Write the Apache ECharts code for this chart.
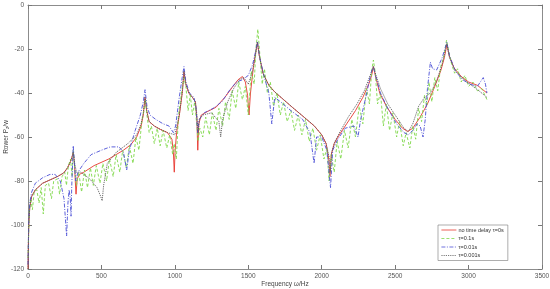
<!DOCTYPE html>
<html>
<head>
<meta charset="utf-8">
<script src="https://cdn.jsdelivr.net/npm/echarts@6/dist/echarts.min.js"></script>
<style>
  html, body { margin: 0; padding: 0; background: #fff; }
  #main { width: 550px; height: 289px; }
</style>
</head>
<body>
<div id="main"></div>
<script>
// frequency [Hz], power [dB]
const tau0 = [[0,-120],[5,-100],[12,-92],[25,-87],[50,-84],[100,-81],[150,-79.5],[200,-78],[240,-76.5],[270,-74],
  [290,-71],[300,-69],[308,-67],[316,-72],[322,-80],[327,-86],[335,-79],[350,-77],[380,-76],[450,-73],
  [550,-70],[650,-66],[700,-63.5],[740,-60],[770,-55],[785,-50],[797,-42],[808,-48],[825,-53],[860,-55],
  [900,-56.5],[950,-58],[980,-61],[990,-67],[996,-76],[1002,-66],[1012,-58],[1035,-48],[1052,-39],[1062,-30.5],
  [1075,-36],[1095,-40],[1120,-42],[1140,-44],[1150,-52],[1156,-66],[1163,-54],[1180,-50],[1220,-48.5],[1280,-46.5],
  [1340,-42],[1390,-37.5],[1430,-34],[1460,-32.5],[1480,-35],[1495,-41],[1505,-50],[1515,-40],[1535,-28],[1550,-22],
  [1562,-17],[1575,-23],[1600,-31],[1640,-36.5],[1680,-39.5],[1740,-43],[1800,-46.5],[1880,-51],[1950,-55],[2000,-59],
  [2030,-63],[2048,-70],[2056,-78],[2065,-68],[2085,-63],[2120,-59],[2170,-54],[2230,-48],[2280,-42],[2320,-36],
  [2340,-32],[2352,-28],[2365,-32],[2395,-40],[2440,-46],[2500,-52],[2550,-56],[2585,-57.5],[2620,-56],[2670,-51],
  [2720,-45],[2770,-37],[2810,-30],[2835,-24],[2852,-18],[2868,-23],[2900,-28.5],[2950,-32.5],[3000,-35],[3060,-36.5],
  [3125,-40]];

const tau01 = [[0,-115],[8,-95],[18,-88],[30,-93],[42,-85],[60,-84],[75,-90],[90,-83],[104,-95],[118,-82],
  [140,-81],[160,-88],[175,-80],[200,-79],[215,-86],[232,-78],[250,-76],[262,-82],[275,-73],[290,-70],
  [300,-78],[308,-66],[318,-74],[330,-82],[345,-76],[365,-85],[385,-75],[405,-83],[425,-74],[445,-82],
  [465,-73],[490,-81],[510,-72],[535,-80],[555,-70],[580,-78],[600,-68],[625,-76],[645,-66],[670,-74],
  [690,-64],[715,-72],[735,-60],[755,-66],[775,-53],[790,-48],[800,-43],[810,-50],[825,-58],[840,-55],
  [860,-63],[880,-56],[900,-64],[920,-57],[945,-65],[965,-59],[985,-68],[995,-63],[1010,-70],[1025,-50],
  [1045,-40],[1062,-33],[1075,-37],[1090,-48],[1105,-41],[1120,-50],[1135,-44],[1150,-55],[1158,-62],[1170,-56],
  [1190,-60],[1210,-51],[1235,-59],[1255,-49],[1280,-57],[1300,-47],[1325,-55],[1345,-44],[1370,-52],[1390,-39],
  [1415,-47],[1435,-35],[1460,-43],[1480,-37],[1500,-50],[1520,-30],[1540,-36],[1552,-20],[1565,-11],[1578,-22],
  [1595,-36],[1610,-29],[1630,-40],[1650,-35],[1672,-46],[1695,-40],[1718,-50],[1740,-44],[1765,-53],[1790,-48],
  [1815,-57],[1840,-50],[1865,-59],[1890,-52],[1915,-62],[1940,-56],[1965,-66],[1990,-59],[2015,-70],[2035,-65],
  [2050,-80],[2065,-68],[2085,-76],[2105,-62],[2130,-70],[2155,-57],[2180,-65],[2205,-52],[2230,-60],[2255,-46],
  [2280,-54],[2305,-38],[2325,-45],[2340,-30],[2352,-25],[2365,-31],[2380,-45],[2400,-40],[2420,-55],[2440,-45],
  [2462,-57],[2485,-49],[2510,-60],[2530,-53],[2555,-64],[2575,-58],[2600,-65],[2620,-55],[2640,-61],[2660,-47],
  [2680,-53],[2700,-41],[2715,-46],[2730,-35],[2750,-44],[2770,-33],[2790,-39],[2810,-28],[2830,-24],[2850,-16],
  [2865,-21],[2885,-27],[2905,-31],[2925,-29],[2950,-35],[2975,-32],[3000,-37],[3030,-35],[3060,-39],[3090,-38],
  [3125,-43]];

const tau001 = [[0,-118],[5,-98],[12,-90],[25,-85],[50,-81],[100,-78.5],[150,-77],[185,-77],[220,-80],[245,-88],
  [263,-105],[272,-90],[280,-84],[288,-88],[293,-96],[298,-82],[308,-64],[316,-72],[325,-80],[340,-76],
  [380,-72],[430,-68],[500,-66],[560,-64.5],[620,-64.5],[650,-67],[672,-75],[690,-66],[730,-57],[765,-50],
  [785,-44],[797,-38.5],[810,-46],[830,-50],[870,-52],[920,-54],[960,-55],[990,-58],[1005,-55],[1030,-42],
  [1050,-33],[1062,-28],[1075,-35],[1100,-40],[1130,-42],[1145,-47],[1155,-58],[1165,-52],[1200,-49],[1260,-47],
  [1320,-44],[1380,-38],[1420,-35],[1460,-34],[1500,-32],[1530,-27],[1550,-21],[1562,-16.5],[1578,-24],[1610,-33],
  [1640,-40],[1660,-54],[1680,-42],[1720,-44],[1790,-48],[1870,-52],[1920,-58],[1948,-72],[1965,-60],[2000,-60],
  [2035,-66],[2060,-83],[2075,-66],[2110,-61],[2160,-56],[2220,-55],[2247,-60],[2265,-52],[2300,-42],[2335,-31],
  [2352,-28],[2370,-33],[2400,-40],[2450,-47],[2510,-54],[2560,-58],[2590,-59],[2620,-57],[2650,-54],[2670,-55],
  [2690,-60],[2705,-52],[2720,-38],[2740,-26],[2755,-29],[2783,-29.5],[2820,-24],[2852,-17],[2870,-23],[2910,-30],
  [2960,-34],[3010,-36],[3060,-37],[3100,-33],[3115,-36],[3125,-40]];

const tau0001 = [[0,-120],[5,-100],[12,-92],[25,-87],[50,-84],[100,-81],[150,-79.5],[200,-78],[250,-76],[285,-72],
  [300,-69],[308,-67],[318,-72],[330,-76],[360,-76],[420,-79],[470,-83],[495,-87],[505,-89],[515,-82],
  [540,-72],[600,-67],[680,-63],[740,-59],[770,-54],[785,-49],[797,-42],[808,-48],[825,-53],[860,-55],
  [900,-56.5],[950,-58],[1000,-59],[1030,-50],[1050,-40],[1062,-30],[1075,-36],[1095,-40],[1120,-42],[1140,-44],
  [1150,-50],[1158,-58],[1168,-52],[1190,-50],[1250,-49],[1300,-53],[1312,-60],[1325,-52],[1360,-44],[1400,-38],
  [1440,-34],[1470,-33],[1500,-36],[1530,-30],[1550,-22],[1562,-17],[1575,-23],[1600,-31],[1640,-36.5],[1680,-39.5],
  [1740,-43],[1800,-46.5],[1880,-51],[1950,-55],[2000,-59],[2030,-63],[2050,-69],[2058,-76],[2068,-67],[2090,-62],
  [2130,-57],[2180,-51],[2240,-45],[2290,-39],[2330,-32],[2352,-28],[2370,-32],[2400,-38],[2450,-45],[2510,-51],
  [2560,-56],[2590,-57.5],[2620,-54],[2660,-46],[2700,-42],[2740,-40],[2780,-35],[2820,-27],[2852,-17.5],[2870,-24],
  [2910,-30],[2970,-34],[3030,-37],[3080,-39.5],[3125,-42]];

const seriesNames = ['no time delay τ=0s', 'τ=0.1s', 'τ=0.01s', 'τ=0.001s'];

const font = 'Liberation Sans, Arial, sans-serif';
const axisColor = '#8c8c8c';
const labelColor = '#555';

const baseAxis = {
  type: 'value',
  axisLine: { show: true, onZero: false, lineStyle: { color: axisColor, width: 1 } },
  axisTick: { show: true, inside: true, length: 4, lineStyle: { color: '#777' } },
  splitLine: { show: false }
};

const line = (name, data, color, type, width) => ({
  name: name,
  type: 'line',
  data: data,
  symbol: 'none',
  showSymbol: false,
  animation: false,
  silent: true,
  lineStyle: { color: color, type: type, width: width },
  itemStyle: { color: color }
});

var chart = echarts.init(document.getElementById('main'));

chart.setOption({
  backgroundColor: '#fff',
  textStyle: { fontFamily: font },
  grid: { left: 28, right: 8, top: 5, bottom: 20, containLabel: false, outerBoundsMode: 'none' },
  legend: {
    orient: 'vertical',
    left: 438,
    top: 225,
    data: seriesNames,
    backgroundColor: '#fff',
    borderColor: '#777',
    borderWidth: 0.6,
    borderRadius: 0,
    padding: [2, 4, 2, 3],
    itemWidth: 15,
    itemHeight: 4,
    itemGap: 2.5,
    itemStyle: { opacity: 0 },
    lineStyle: { width: 0.8 },
    textStyle: { fontSize: 5.5, color: '#333', fontFamily: font, padding: [0, 0, 0, -3] }
  },
  xAxis: [
    Object.assign({}, baseAxis, {
      position: 'bottom', min: 0, max: 3500, interval: 500,
      axisLabel: { fontSize: 6.5, color: labelColor, margin: 4, fontFamily: font, formatter: v => String(v) },
      name: 'Frequency ω/Hz', nameLocation: 'middle', nameGap: 12, nameMoveOverlap: false,
      nameTextStyle: { fontSize: 6.5, color: '#444', fontFamily: font }
    }),
    Object.assign({}, baseAxis, {
      position: 'top', min: 0, max: 3500, interval: 500,
      axisLabel: { show: false }
    })
  ],
  yAxis: [
    Object.assign({}, baseAxis, {
      position: 'left', min: -120, max: 0, interval: 20,
      axisLabel: { fontSize: 6.5, color: labelColor, margin: 4, fontFamily: font, formatter: v => String(v) },
      name: 'Rower P{sub|z}/w', nameLocation: 'middle', nameGap: 18, nameMoveOverlap: false,
      nameTextStyle: {
        fontSize: 6.5, color: '#444', fontFamily: font,
        rich: { sub: { fontSize: 4.5, color: '#444', verticalAlign: 'bottom', padding: [3, 0, 0, 0] } }
      }
    }),
    Object.assign({}, baseAxis, {
      position: 'right', min: -120, max: 0, interval: 20,
      axisLabel: { show: false }
    })
  ],
  series: [
    line(seriesNames[0], tau0, '#e8372f', 'solid', 0.9),
    line(seriesNames[1], tau01, '#7fd84a', [3, 2], 0.9),
    line(seriesNames[2], tau001, '#4b4fd6', [4, 1.5, 1, 1.5], 0.9),
    line(seriesNames[3], tau0001, '#5a5a5a', [1.2, 1], 0.9)
  ]
});
</script>
</body>
</html>
